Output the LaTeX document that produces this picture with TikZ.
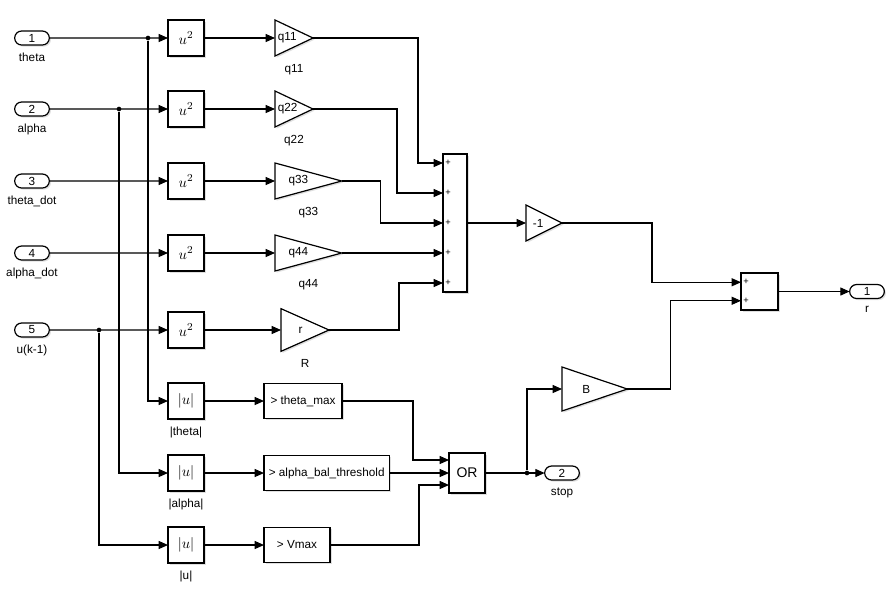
\documentclass[tikz,border=0pt]{standalone}
\usepackage{fontspec}
\setmainfont{Liberation Sans}
\usetikzlibrary{shapes,arrows.meta,calc,shadows,backgrounds}

\begin{document}
\begin{tikzpicture}[x=0.75pt,y=-0.75pt,font=\fontsize{8.8}{10}\selectfont,label distance=2.5pt]
    % Define styles
    \tikzstyle{blockshadow} = [drop shadow={shadow xshift=1.2pt,shadow yshift=-1.2pt,opacity=0.25}]
    \tikzstyle{block} = [rectangle, draw, line width=0.9pt, fill=white, blockshadow, inner sep=0pt, outer sep=0pt, minimum width=27pt, minimum height=27pt]
    \tikzstyle{mathblock} = [block, font=\fontsize{11}{12}\selectfont]
    \tikzstyle{port} = [rounded rectangle, draw, line width=0.9pt, fill=white, blockshadow, inner sep=0pt, outer sep=0pt, minimum width=26pt, minimum height=10.5pt]
    \tikzstyle{gain} = [rectangle, inner sep=0pt, outer sep=0pt, anchor=west]
    \tikzstyle{gainval} = [anchor=west, inner sep=1pt, xshift=2.5pt]
    \tikzstyle{tri} = [draw, line width=0.9pt, fill=white, line join=miter, blockshadow]
    \tikzstyle{signal} = [line width=0.8pt, ->, >={Triangle[length=7pt,width=6pt]}]
    \tikzstyle{plus} = [anchor=west, inner sep=1.5pt, font=\fontsize{7}{7}\selectfont]
    \tikzstyle{branch} = [circle, fill, inner sep=0pt, minimum size=3.5pt]

    \useasboundingbox (0,0) rectangle (888,612);

    % Inports
    \node[port, label=below:theta] (in1) at (32,38) {1};
    \node[port, label=below:alpha] (in2) at (32,109) {2};
    \node[port, label=below:theta\_dot] (in3) at (32,181) {3};
    \node[port, label=below:alpha\_dot] (in4) at (32,253) {4};
    \node[port, label=below:u(k-1)] (in5) at (32,330) {5};

    % Squares
    \foreach \i/\y in {1/38,2/109,3/181,4/253,5/330}
        \node[mathblock] (sq\i) at (186,\y) {$u^2$};

    % Gains
    \node[gain, minimum width=28.5pt, minimum height=27pt, label={[gainval,xshift=1pt]west:q11}, label=below:q11] (q11) at (275,38) {};
    \node[gain, minimum width=28.5pt, minimum height=27pt, label={[gainval,xshift=1pt]west:q22}, label=below:q22] (q22) at (275,109) {};
    \node[gain, minimum width=50pt, minimum height=27pt, label={[gainval,xshift=9pt]west:q33}, label=below:q33] (q33) at (275,181) {};
    \node[gain, minimum width=50pt, minimum height=27pt, label={[gainval,xshift=9pt]west:q44}, label=below:q44] (q44) at (275,253) {};
    \node[gain, minimum width=36pt, minimum height=32pt, label={[gainval,xshift=12pt]west:r}, label=below:R] (rgain) at (281,330) {};
    \node[gain, minimum width=27pt, minimum height=27pt, label={[gainval,xshift=4pt]west:-1}] (neg) at (526,223) {};
    \node[gain, minimum width=49pt, minimum height=33pt, label={[gainval,xshift=14pt]west:B}] (bgain) at (562,389) {};

    % Sums
    \node[block, minimum width=18pt, minimum height=103.5pt] (sum1) at (455,223) {};
    \node[block, minimum width=27.75pt, minimum height=27.75pt] (sum2) at (759.5,291.5) {};
    \foreach \i in {1,...,5}
        \coordinate (s1p\i) at ($(sum1.north west)+(0,{30*\i-21})$);
    \coordinate (s2p1) at ($(sum2.north west)+(0,9.25)$);
    \coordinate (s2p2) at ($(sum2.north west)+(0,27.75)$);
    \foreach \i in {1,...,5}
        \node[plus] (s1t\i) at (s1p\i) {+};
    \node[plus] (s2t1) at (s2p1) {+};
    \node[plus] (s2t2) at (s2p2) {+};

    % Limits
    \node[mathblock, label=below:|theta|] (abs1) at (186,401) {$|u|$};
    \node[mathblock, label=below:|alpha|] (abs2) at (186,473) {$|u|$};
    \node[mathblock, label=below:|u|] (abs3) at (186,545) {$|u|$};
    \node[block, anchor=west, minimum width=58.5pt, minimum height=26.5pt] (cmp1) at (264,401) {> theta\_max};
    \node[block, anchor=west, minimum width=94pt, minimum height=26.5pt] (cmp2) at (264,473) {> alpha\_bal\_threshold};
    \node[block, anchor=west, minimum width=49.5pt, minimum height=26.5pt] (cmp3) at (264,545) {> Vmax};
    \node[block, minimum width=27pt, minimum height=30pt, font=\fontsize{10.5}{12}\selectfont] (orgate) at (467,473) {OR};
    \coordinate (op1) at ($(orgate.north west)+(0,7)$);
    \coordinate (op2) at ($(orgate.north west)+(0,20)$);
    \coordinate (op3) at ($(orgate.north west)+(0,32)$);

    % Outports
    \node[port, label=below:r] (out1) at (867,291.5) {1};
    \node[port, label=below:stop] (out2) at (562,473) {2};

    % Triangles
    \begin{pgfonlayer}{background}
        \foreach \g in {q11,q22,q33,q44,rgain,neg,bgain}
            \draw[tri] (\g.north west) -- (\g.east) -- (\g.south west) -- cycle;
    \end{pgfonlayer}

    % Connections
    \foreach \i in {1,...,5}
        \draw[signal] (in\i) -- (sq\i);
    \draw[signal] (sq1) -- (q11.west);
    \draw[signal] (sq2) -- (q22.west);
    \draw[signal] (sq3) -- (q33.west);
    \draw[signal] (sq4) -- (q44.west);
    \draw[signal] (sq5) -- (rgain.west);
    \draw[signal] (q11.east) -- ++(105,0) |- (s1p1);
    \draw[signal] (q22.east) -- ++(84,0) |- (s1p2);
    \draw[signal] (q33.east) -- ++(39,0) |- (s1p3);
    \draw[signal] (q44.east) -- (s1p4);
    \draw[signal] (rgain.east) -- ++(70,0) |- (s1p5);
    \draw[signal] (sum1.east) -- (neg.west);
    \draw[signal] (neg.east) -- ++(90,0) |- (s2p1);
    \draw[signal] (sum2) -- (out1);

    \node[branch] (b1) at (148,38) {};
    \node[branch] (b2) at (119,109) {};
    \node[branch] (b5) at (99,330) {};
    \node[branch] (b6) at (527,473) {};
    \draw[signal] (b1) |- (abs1);
    \draw[signal] (b2) |- (abs2);
    \draw[signal] (b5) |- (abs3);
    \foreach \i in {1,2,3}
        \draw[signal] (abs\i) -- (cmp\i);
    \draw[signal] (cmp1.east) -- ++(71,0) |- (op1);
    \draw[signal] (cmp2.east) -- (op2);
    \draw[signal] (cmp3.east) -- ++(89,0) |- (op3);
    \draw[signal] (orgate) -- (out2);
    \draw[signal] (b6) |- (bgain.west);
    \draw[signal] (bgain.east) -- ++(43,0) |- (s2p2);
\end{tikzpicture}
\end{document}
